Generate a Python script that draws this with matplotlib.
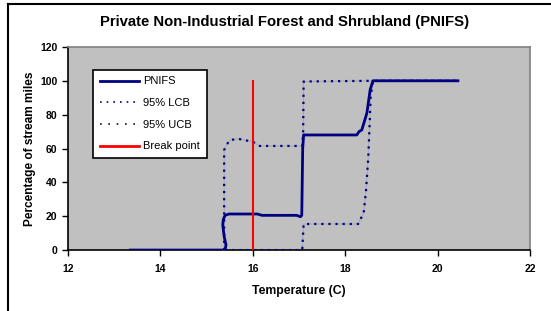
import matplotlib

matplotlib.use("Agg")
import matplotlib.pyplot as plt
from matplotlib.lines import Line2D

plt.rcParams["font.family"] = ["Liberation Sans", "DejaVu Sans"]

# PNIFS cumulative curve (temperature C, percent of stream miles)
pnifs_x = [13.35, 15.40, 15.42, 15.38, 15.35, 15.36, 15.40, 15.48, 16.10, 16.20,
           16.95, 17.03, 17.06, 17.08, 17.10, 17.13, 18.25, 18.30, 18.36, 18.47,
           18.54, 18.60, 20.44]
pnifs_y = [0, 0, 3, 8, 14.8, 18, 20.5, 21.3, 21.3, 20.5,
           20.5, 19.7, 20.5, 60, 68, 68, 68, 70, 71, 81,
           94.7, 100, 100]

# 95% lower confidence bound
lcb_x = [15.40, 17.07, 17.09, 17.10, 18.28, 18.40, 18.45, 18.50, 18.53, 18.55, 18.60, 20.44]
lcb_y = [0, 0, 10, 15.4, 15.4, 22, 35, 55, 75, 90, 100, 100]

# 95% upper confidence bound
ucb_x = [15.38, 15.38, 15.41, 15.50, 15.69, 16.00, 16.15, 17.07, 17.09, 17.10, 18.60, 20.44]
ucb_y = [0, 59, 61, 65, 65.7, 64, 61.5, 61.5, 70, 99.6, 100, 100]

break_x = [16, 16]
break_y = [0, 100]

navy = "#000080"

fig = plt.figure(figsize=(5.51, 3.11), dpi=100)
ax = fig.add_axes([0.1234, 0.196, 0.8385, 0.653])
ax.set_facecolor("#c0c0c0")

# thin grey underlay, like the antialiased joins of the round-dot lines
ax.plot(lcb_x, lcb_y, color="#a0a0b8", lw=0.6, zorder=2)
ax.plot(ucb_x, ucb_y, color="#a0a0b8", lw=0.6, zorder=2)
ax.plot(lcb_x, lcb_y, color=navy, lw=1.6, ls=(0, (1, 2.2)), zorder=3)
ax.plot(ucb_x, ucb_y, color=navy, lw=1.6, ls=(0, (1, 2.2)), zorder=3)
ax.plot(pnifs_x, pnifs_y, color=navy, lw=2, zorder=4)
ax.plot(break_x, break_y, color="red", lw=1.5, zorder=5)

ax.set_xlim(12, 22)
ax.set_ylim(0, 120)
ax.set_xticks(range(12, 23, 2))
ax.set_yticks(range(0, 121, 20))
for lab in ax.get_xticklabels() + ax.get_yticklabels():
    lab.set_fontweight("bold")
ax.tick_params(axis="both", labelsize=7.5, length=4, width=1, direction="out", color="black")
ax.tick_params(axis="x", pad=6)

for side in ("left", "bottom"):
    ax.spines[side].set_color("black")
    ax.spines[side].set_linewidth(1.2)
for side in ("top", "right"):
    ax.spines[side].set_color("#808080")
    ax.spines[side].set_linewidth(1.2)

ax.set_xlabel("Temperature (C)", fontsize=8.8, fontweight="bold", labelpad=8)
ax.set_ylabel("Percentage of stream miles", fontsize=8.6, fontweight="bold", labelpad=3)
fig.text(0.517, 0.928, "Private Non-Industrial Forest and Shrubland (PNIFS)",
         fontsize=10.7, fontweight="bold", ha="center", va="center")

handles = [
    Line2D([], [], color=navy, lw=2),
    Line2D([], [], color=navy, lw=1.2, ls=(0, (1, 3))),
    Line2D([], [], color=navy, lw=1.2, ls=(0, (1, 4))),
    Line2D([], [], color="red", lw=2),
]
leg = ax.legend(handles, ["PNIFS", "95% LCB", "95% UCB", "Break point"],
                loc="upper left", bbox_to_anchor=(0.043, 0.915), fontsize=8,
                frameon=True, fancybox=False, framealpha=1, edgecolor="black",
                handlelength=3.5, labelspacing=1.05, borderpad=0.6,
                handletextpad=0.4)
leg.get_frame().set_linewidth(1.2)

# outer chart frame (left and top edges visible)
fig.add_artist(Line2D([0.015, 0.015], [0, 0.988], color="black", lw=1.5,
                      transform=fig.transFigure))
fig.add_artist(Line2D([0.015, 1], [0.988, 0.988], color="black", lw=1.5,
                      transform=fig.transFigure))

fig.savefig("out.png", dpi=100)
